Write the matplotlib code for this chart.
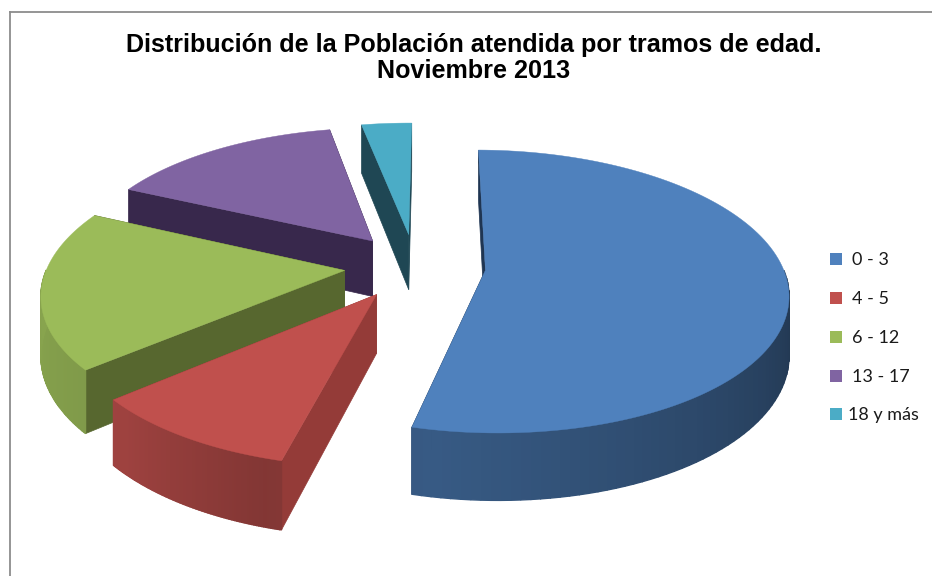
import numpy as np
import matplotlib
matplotlib.use("Agg")
import matplotlib.pyplot as plt
from matplotlib.patches import Polygon, Rectangle

# Data
labels = ['0 - 3', '4 - 5', '6 - 12', '13 - 17', '18 y más']
shares = [53.8, 9.8, 18.2, 15.0, 3.2]  # percent
top_colors = ['#4f81bd', '#c0504d', '#9bbb59', '#8064a2', '#4bacc6']
cut_colors = ['#1f3552', '#943b38', '#57672f', '#38284c', '#1f4754']
title = 'Distribución de la Población atendida por tramos de edad.\nNoviembre 2013'

# projection of the tilted pie
cx, cy = 415, 266
rx, ry = 297, 137
k = 0.15
explode = 0.238
depth = 57
start = 0.5

def project(u, v):
    p = 1/(1+k*v)
    return cx+rx*u*p, cy-ry*v*p, depth*p

def shade(color, f):
    c = np.array(matplotlib.colors.to_rgb(color))
    return tuple(c*f)

fig = plt.figure(figsize=(9.32, 5.76), dpi=100)
ax = fig.add_axes([0, 0, 1, 1])
ax.set_xlim(0, 932)
ax.set_ylim(576, 0)
ax.axis('off')

# chart frame, only top and left are in the crop
ax.plot([9.5, 932], [11.5, 11.5], color='#8c8c8c', lw=1.3)
ax.plot([9.5, 9.5], [11.5, 576], color='#8c8c8c', lw=1.3)

angles = start+np.cumsum([0]+shares)*3.6
order = [4, 3, 2, 1, 0]
for i in order:
    a0, a1 = np.radians(angles[i]), np.radians(angles[i+1])
    mid = (a0+a1)/2
    u0, v0 = explode*np.sin(mid), explode*np.cos(mid)
    th = np.linspace(a0, a1, 120)
    x, y, d = project(u0+np.sin(th), v0+np.cos(th))
    ax0, ay0, ad0 = project(u0, v0)

    # flat cut faces
    for j in [0, -1]:
        ax.add_patch(Polygon([(ax0, ay0), (x[j], y[j]), (x[j], y[j]+d[j]), (ax0, ay0+ad0)],
                             fc=cut_colors[i], ec=cut_colors[i], lw=0.5))

    # outer wall, only the front half can be seen
    for j in range(len(th)-1):
        if np.cos(th[j]) > 0:
            continue
        f = np.interp(np.degrees(th[j]), [95, 190, 197, 225, 270], [0.42, 0.70, 0.68, 0.82, 0.88])
        col = shade(top_colors[i], f)
        ax.add_patch(Polygon([(x[j], y[j]), (x[j+1], y[j+1]), (x[j+1], y[j+1]+d[j+1]), (x[j], y[j]+d[j])],
                             fc=col, ec=col, lw=1))

    # top face
    ax.add_patch(Polygon(np.column_stack([np.r_[ax0, x], np.r_[ay0, y]]),
                         fc=top_colors[i], ec=top_colors[i], lw=0.3))

ax.text(473.5, 58, title, ha='center', va='center', fontsize=18.1, fontweight='bold',
        family='Liberation Sans', linespacing=1.15, color='black')

# legend
legend_y = [260, 299, 338, 377, 415]
legend_x = [852, 852, 852, 852, 848]
for i in range(5):
    ax.add_patch(Rectangle((830, legend_y[i]-7), 12, 12, fc=top_colors[i], ec='none'))
    ax.text(legend_x[i], legend_y[i], labels[i], ha='left', va='center', fontsize=13,
            family='Lato', color='#1a1a1a')

fig.savefig('out.png', dpi=100)
